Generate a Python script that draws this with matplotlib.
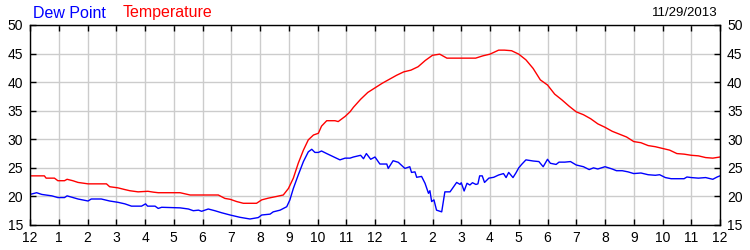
import numpy as np
import matplotlib
matplotlib.use('Agg')
import matplotlib.pyplot as plt

plt.rcParams['font.family'] = ['Liberation Sans', 'DejaVu Sans']

#readings, hours after midnight
temp_hours = [0, 0.5, 0.56, 0.85, 0.97, 1.2, 1.29, 1.49, 1.67, 2.02, 2.66, 2.77, 3.06, 3.3,
              3.47, 3.76, 4.1, 4.29, 4.46, 5.22, 5.57, 6.55, 6.78, 6.96, 7.19, 7.42, 7.88,
              8.06, 8.29, 8.58, 8.81, 8.99, 9.16, 9.33, 9.51, 9.68, 9.86, 10.03, 10.14,
              10.32, 10.61, 10.72, 10.96, 11.13, 11.25, 11.5, 11.75, 12, 12.25, 12.5, 12.75,
              13, 13.25, 13.5, 13.75, 14, 14.25, 14.5, 15, 15.5, 15.75, 16, 16.3, 16.5,
              16.75, 17, 17.25, 17.5, 17.75, 18, 18.25, 18.5, 18.75, 19, 19.25, 19.5, 19.75,
              20, 20.25, 20.5, 20.75, 21, 21.25, 21.5, 21.75, 22, 22.25, 22.5, 22.75, 23,
              23.25, 23.5, 23.75, 24]
temperature = [23.6, 23.6, 23.2, 23.2, 22.75, 22.75, 23.0, 22.75, 22.45, 22.2, 22.2, 21.7,
               21.5, 21.2, 21.0, 20.8, 20.9, 20.75, 20.65, 20.65, 20.25, 20.25, 19.65, 19.5,
               19.1, 18.8, 18.8, 19.4, 19.7, 20.0, 20.25, 21.4, 23.2, 25.8, 28.1, 29.9, 30.75,
               31.05, 32.3, 33.25, 33.25, 33.1, 34.0, 34.8, 35.6, 37.0, 38.2, 39.0, 39.8,
               40.5, 41.2, 41.8, 42.1, 42.7, 43.8, 44.7, 44.9, 44.2, 44.2, 44.2, 44.6, 44.9,
               45.6, 45.6, 45.5, 44.9, 43.9, 42.4, 40.4, 39.5, 37.9, 36.9, 35.8, 34.8, 34.3,
               33.6, 32.7, 32.1, 31.4, 30.9, 30.4, 29.6, 29.4, 28.9, 28.7, 28.4, 28.1, 27.5,
               27.4, 27.2, 27.1, 26.8, 26.7, 26.9]

dew_hours = [0, 0.23, 0.41, 0.76, 0.97, 1.2, 1.29, 1.49, 1.67, 2.02, 2.13, 2.48, 2.77, 3.06,
             3.3, 3.53, 3.88, 4.02, 4.09, 4.35, 4.46, 4.58, 5.22, 5.51, 5.68, 5.86, 5.97,
             6.2, 6.43, 6.66, 6.96, 7.3, 7.65, 7.94, 8.06, 8.35, 8.46, 8.7, 8.93, 9.04, 9.16,
             9.33, 9.51, 9.68, 9.8, 9.91, 10.03, 10.14, 10.32, 10.55, 10.78, 10.96, 11.13,
             11.25, 11.5, 11.6, 11.7, 11.85, 12, 12.17, 12.41, 12.46, 12.63, 12.81, 13.04,
             13.21, 13.27, 13.39, 13.45, 13.62, 13.74, 13.86, 13.91, 13.97, 14.05, 14.14,
             14.32, 14.43, 14.61, 14.84, 14.96, 15.0, 15.1, 15.2, 15.3, 15.39, 15.51, 15.58,
             15.64, 15.73, 15.81, 15.96, 16.13, 16.3, 16.47, 16.56, 16.65, 16.8, 16.9,
             17, 17.1, 17.25, 17.5, 17.7, 17.85, 18, 18.1, 18.3, 18.4, 18.6, 18.8, 19, 19.25,
             19.45, 19.6, 19.75, 20, 20.25, 20.4, 20.6, 20.8, 21, 21.25, 21.5, 21.75, 21.9,
             22.1, 22.3, 22.5, 22.75, 22.85, 23, 23.25, 23.5, 23.75, 23.9, 24]
dew_point = [20.35, 20.65, 20.35, 20.1, 19.8, 19.8, 20.1, 19.8, 19.55, 19.2, 19.55, 19.55,
             19.2, 18.97, 18.7, 18.3, 18.3, 18.7, 18.3, 18.3, 17.9, 18.1, 18.0, 17.8, 17.5,
             17.6, 17.4, 17.8, 17.5, 17.15, 16.75, 16.35, 16.05, 16.3, 16.75, 16.9, 17.3,
             17.6, 18.2, 19.4, 21.4, 23.75, 26.1, 27.8, 28.25, 27.7, 27.7, 27.95, 27.5,
             26.95, 26.4, 26.7, 26.7, 26.9, 27.2, 26.6, 27.5, 26.5, 26.9, 25.67, 25.67,
             24.9, 26.25, 25.97, 24.9, 25.2, 24.2, 24.3, 23.35, 23.5, 22.3, 20.55, 21.0,
             19.1, 19.4, 17.6, 17.3, 20.8, 20.8, 22.45, 22.1, 22.4, 20.95, 22.3, 22.0, 22.4,
             22.1, 22.2, 23.6, 23.6, 22.45, 23.2, 23.35, 23.75, 24.0, 23.3, 24.2, 23.3, 24.1,
             25.0, 25.6, 26.4, 26.2, 26.1, 25.2, 26.5, 25.8, 25.6, 26.0, 26.0, 26.1, 25.5,
             25.2, 24.7, 25.0, 24.8, 25.2, 24.8, 24.5, 24.5, 24.3, 24.0, 24.1, 23.8, 23.7,
             23.8, 23.3, 23.1, 23.1, 23.1, 23.4, 23.3, 23.2, 23.3, 23.0, 23.4, 23.6]

hour_labels = ['12', '1', '2', '3', '4', '5', '6', '7', '8', '9', '10', '11',
               '12', '1', '2', '3', '4', '5', '6', '7', '8', '9', '10', '11', '12']
y_ticks = [15, 20, 25, 30, 35, 40, 45, 50]
date_label = '11/29/2013'

fig = plt.figure(figsize=(7.5, 2.5), dpi=100)
ax = fig.add_axes([0.04, 0.1, 0.92, 0.8])

ax.plot(temp_hours, temperature, color='#ff0000', linewidth=1)
ax.plot(dew_hours, dew_point, color='#0000ff', linewidth=1)

ax.set_xlim(0, 24)
ax.set_ylim(15, 50)
ax.set_xticks(np.arange(len(hour_labels)))
ax.set_xticklabels(hour_labels)
ax.set_yticks(y_ticks)
ax.grid(True, color='#cccccc', linewidth=1)
ax.set_axisbelow(True)
#short inward ticks on every side, labels left, right and bottom
ax.tick_params(axis='both', direction='in', length=4, width=1, color='black',
               labelsize=10, top=True, right=True)
ax.tick_params(axis='x', pad=4)
ax.tick_params(axis='y', labelright=True, pad=5)
for sp in ax.spines.values():
    sp.set_color('black')
    sp.set_linewidth(1)

fig.text(33/750, 1 - 13/250, 'Dew Point', color='#0000ff', fontsize=11.5, va='center', ha='left')
fig.text(123/750, 1 - 13/250, 'Temperature', color='#ff0000', fontsize=11.5, va='center', ha='left')
fig.text(718/750, 1 - 13/250, date_label, color='black', fontsize=9.5, va='center', ha='right')

plt.savefig('out.png', dpi=100)
plt.close()
